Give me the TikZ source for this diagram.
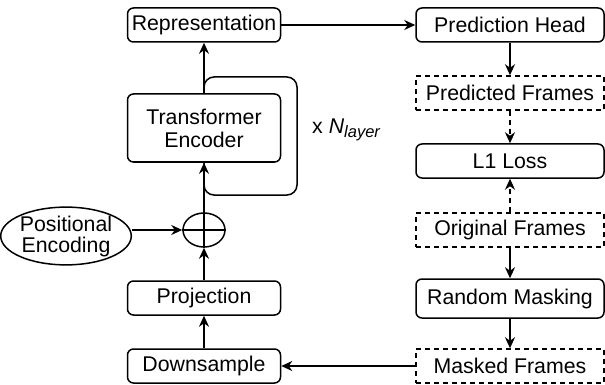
\documentclass[tikz,border=0pt]{standalone}
\usepackage{fontspec}
\setmainfont{Liberation Sans}
\usetikzlibrary{arrows.meta,shapes.geometric}
\begin{document}
\begin{tikzpicture}[x=1pt,y=-1pt,
  every node/.style={font=\fontsize{21.3}{24}\selectfont},
  lw/.style={line width=1.5pt},
  box/.style={lw,draw,rounded corners=6pt,fill=white,inner sep=0pt},
  dbox/.style={lw,draw,dashed,dash pattern=on 5pt off 4pt,fill=white,inner sep=0pt},
  arr/.style={lw,-{Stealth[length=11pt,width=10pt,inset=3.5pt]}},
  darr/.style={arr,dash pattern=on 5pt off 4pt}]
\useasboundingbox (0,0) rectangle (605,385);
% loop
\draw[lw,rounded corners=10pt] (204,77) rectangle (297,195);
% left column
\node[box,minimum width=153pt,minimum height=34pt] (rep) at (204,25) {Representation};
\node[box,minimum width=153pt,minimum height=68pt,align=center] (enc) at (204,128) {Transformer\\[-1pt]Encoder};
\node[lw,draw,ellipse,minimum width=42pt,minimum height=34pt,inner sep=0pt,fill=white] (plus) at (204,230) {};
\draw[lw] (plus.north) -- (plus.south) (plus.west) -- (plus.east);
\node[lw,draw,ellipse,minimum width=119pt,minimum height=55pt,inner sep=0pt,align=center] (pos) at (66,236) {Positional\\[-3pt]Encoding};
\node[box,minimum width=153pt,minimum height=34pt] (proj) at (204,298) {Projection};
\node[box,minimum width=153pt,minimum height=34pt] (down) at (204,366) {Downsample};
% right column
\node[box,minimum width=188pt,minimum height=34pt] (head) at (510,25) {Prediction Head};
\node[dbox,minimum width=188pt,minimum height=34pt] (pred) at (510,93) {Predicted Frames};
\node[box,minimum width=188pt,minimum height=34pt] (loss) at (510,161) {L1 Loss};
\node[dbox,minimum width=188pt,minimum height=34pt] (orig) at (510,230) {Original Frames};
\node[box,minimum width=188pt,minimum height=39pt] (mask) at (510,298.5) {Random Masking};
\node[dbox,minimum width=188pt,minimum height=34pt] (mf) at (510,366) {Masked Frames};
\node[anchor=west,inner sep=0pt] (nl) at (312,130) {x \textit{N}\raisebox{-4pt}{\fontsize{16.5}{18}\selectfont\textit{layer}}};
% connectors
\draw[arr] (rep.east) -- (head.west);
\draw[arr] (head.south) -- (pred.north);
\draw[darr] (pred.south) -- (loss.north);
\draw[darr] (orig.north) -- (loss.south);
\draw[arr] (orig.south) -- (mask.north);
\draw[arr] (mask.south) -- (mf.north);
\draw[arr] (mf.west) -- (down.east);
\draw[arr] (down.north) -- (proj.south);
\draw[arr] (proj.north) -- (plus.south);
\draw[arr] (pos.east |- plus.west) -- (plus.west);
\draw[arr] (plus.north) -- (enc.south);
\draw[arr] (enc.north) -- (rep.south);
\end{tikzpicture}
\end{document}
